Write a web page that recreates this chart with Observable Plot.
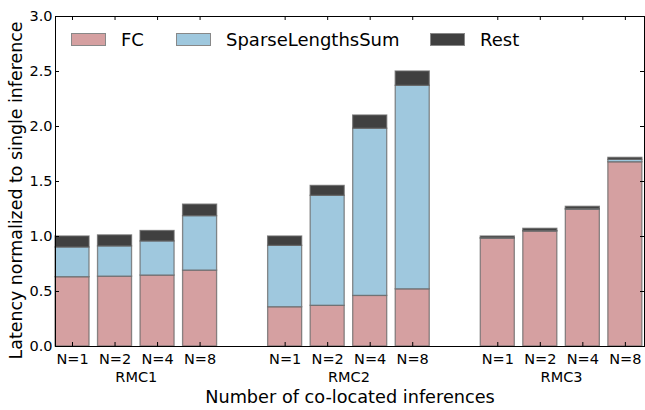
<!DOCTYPE html>
<html><head><meta charset="utf-8">
<script src="https://cdn.jsdelivr.net/npm/d3@7"></script>
<script src="https://cdn.jsdelivr.net/npm/@observablehq/plot@0.6"></script>
<style>
body{margin:0;background:#fff;font-family:"DejaVu Sans",sans-serif}
#wrap{position:relative;width:645px;height:410px}
.item{position:absolute;top:28px;height:22px;display:flex;align-items:center;font-size:18px;color:#000;white-space:nowrap;font-family:"DejaVu Sans"}
.sw{width:33px;height:11px;border:1.5px solid #888;margin-right:15px;flex:none}
</style>
</head><body><div id="wrap"></div>
<script>
const groups = ["RMC1", "RMC2", "RMC3"];
const nLabels = ["N=1", "N=2", "N=4", "N=8"];
const parts = ["FC", "SparseLengthsSum", "Rest"];
const colors = ["#d5a0a1", "#9fc8de", "#404040"];
const fcValues   = [0.63, 0.635, 0.645, 0.69,  0.357, 0.37, 0.46, 0.52,  0.98, 1.045, 1.243, 1.675];
const slsValues  = [0.27, 0.275, 0.31, 0.495,  0.558, 1.0, 1.52, 1.85,  0.005, 0.005, 0.007, 0.022];
const restValues = [0.10, 0.10, 0.095, 0.105,  0.085, 0.09, 0.12, 0.13,  0.015, 0.02, 0.02, 0.018];
const yTicks = [0, 0.5, 1.0, 1.5, 2.0, 2.5, 3.0];
const xTitle = "Number of co-located inferences";
const yTitle = "Latency normalized to single inference";

// build table
const rows = [];
const tickPos = [];
const tickLab = new Map();
fcValues.forEach((fc, k) => {
  const g = Math.floor(k / 4), i = k % 4;
  const pos = g * 5 + i;
  tickPos.push(pos);
  tickLab.set(pos, nLabels[i]);
  const vals = [fc, slsValues[k], restValues[k]];
  let base = 0;
  vals.forEach((v, p) => {
    rows.push({pos, part: parts[p], y1: base, y2: base + v});
    base += v;
  });
});
const groupRows = groups.map((name, g) => ({name, pos: g * 5 + 1.5}));
const colorOf = new Map(parts.map((p, i) => [p, colors[i]]));

const W = 645, H = 410, mL = 55, mR = 1, mT = 16, mB = 64;
const innerW = W - mL - mR, innerH = H - mT - mB;

const chart = Plot.plot({
  width: W, height: H,
  marginLeft: mL, marginRight: mR, marginTop: mT, marginBottom: mB,
  style: {fontFamily: "DejaVu Sans", fontSize: "14px", color: "#000", background: "#fff"},
  x: {type: "linear", domain: [-0.4, 13.45]},
  y: {domain: [0, 3]},
  marks: [
    Plot.rect(rows, {x1: d => d.pos - 0.4, x2: d => d.pos + 0.4, y1: "y1", y2: "y2",
      fill: d => colorOf.get(d.part), stroke: "#666", strokeOpacity: 0.75, strokeWidth: 1.3}),
    Plot.frame({stroke: "#000", strokeWidth: 1}),
    Plot.tickX(tickPos, {x: d => d, insetTop: innerH - 4, stroke: "#000"}),
    Plot.tickX(tickPos, {x: d => d, insetBottom: innerH - 4, stroke: "#000"}),
    Plot.tickY(yTicks, {y: d => d, insetRight: innerW - 4, stroke: "#000"}),
    Plot.tickY(yTicks, {y: d => d, insetLeft: innerW - 4, stroke: "#000"}),
    Plot.axisY({ticks: yTicks, tickFormat: d3.format(".1f"), tickSize: 0, tickPadding: 3, fontSize: 14.5, label: null}),
    Plot.axisX({ticks: tickPos, tickFormat: d => tickLab.get(d), tickSize: 0, tickPadding: 7, fontSize: 14.5, label: null}),
    Plot.text(groupRows, {x: "pos", text: "name", frameAnchor: "bottom", dy: 35, fontSize: 14.5}),
    Plot.text([xTitle], {text: d => d, frameAnchor: "bottom", dy: 56, fontSize: 17.7}),
    Plot.text([yTitle], {text: d => d, frameAnchor: "left", textAnchor: "middle", dx: -39, dy: 9, rotate: -90, fontSize: 17.4})
  ]
});
const wrap = document.getElementById("wrap");
wrap.appendChild(chart);

const lefts = [71, 176, 430];
parts.forEach((p, i) => {
  const it = document.createElement("div");
  it.className = "item";
  it.style.left = lefts[i] + "px";
  const sw = document.createElement("div");
  sw.className = "sw";
  sw.style.background = colors[i];
  const t = document.createElement("span");
  t.textContent = p;
  it.appendChild(sw); it.appendChild(t);
  wrap.appendChild(it);
});
</script>
</body></html>
